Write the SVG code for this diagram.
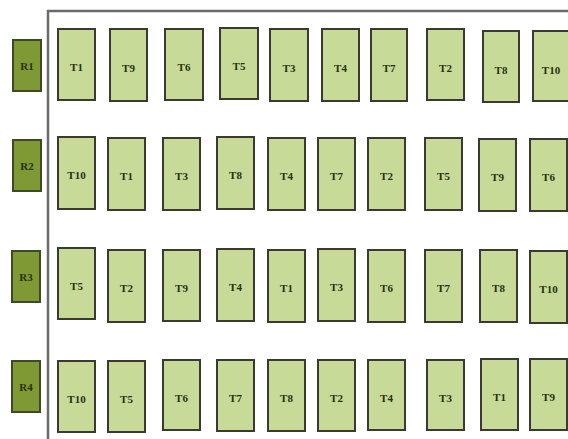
<svg xmlns="http://www.w3.org/2000/svg" width="568" height="439" viewBox="0 0 568 439">
<style>
.t rect{fill:#c8da98;stroke:#3a3a33;stroke-width:2}
.r rect{fill:#7f9a35;stroke:#3d4a25;stroke-width:2}
text{font-family:"Liberation Serif","DejaVu Serif",serif;font-weight:bold;font-size:11px;fill:#26320f;text-anchor:middle}
.frame{fill:none;stroke:#6b6b6b;stroke-width:2.5}
</style>
<rect width="568" height="439" fill="#ffffff"/>
<path class="frame" d="M48,439 V11 H570"/>
<g id="R1" class="r"><rect x="13" y="40" width="28" height="51"/><text x="27" y="70">R1</text></g>
<g id="R2" class="r"><rect x="13" y="140" width="28" height="51"/><text x="27" y="170">R2</text></g>
<g id="R3" class="r"><rect x="12" y="251" width="28" height="51"/><text x="26" y="281">R3</text></g>
<g id="R4" class="r"><rect x="12" y="361" width="28" height="51"/><text x="26" y="391">R4</text></g>
<g id="row1">
<g id="r1-T1" class="t"><rect x="58" y="29" width="37" height="71"/><text x="76.5" y="71">T1</text></g>
<g id="r1-T9" class="t"><rect x="110" y="29" width="37" height="72"/><text x="128.5" y="72">T9</text></g>
<g id="r1-T6" class="t"><rect x="165" y="29" width="38" height="71"/><text x="184" y="71">T6</text></g>
<g id="r1-T5" class="t"><rect x="220" y="28" width="38" height="71"/><text x="239" y="70">T5</text></g>
<g id="r1-T3" class="t"><rect x="270" y="29" width="38" height="72"/><text x="289" y="72">T3</text></g>
<g id="r1-T4" class="t"><rect x="322" y="29" width="37" height="72"/><text x="340.5" y="72">T4</text></g>
<g id="r1-T7" class="t"><rect x="371" y="29" width="36" height="72"/><text x="389" y="72">T7</text></g>
<g id="r1-T2" class="t"><rect x="427" y="29" width="37" height="71"/><text x="445.5" y="72">T2</text></g>
<g id="r1-T8" class="t"><rect x="483" y="31" width="36" height="71"/><text x="501" y="74">T8</text></g>
<g id="r1-T10" class="t"><rect x="533" y="31" width="36" height="70"/><text x="551" y="74">T10</text></g>
</g>
<g id="row2">
<g id="r2-T10" class="t"><rect x="58" y="137" width="37" height="72"/><text x="76.5" y="179">T10</text></g>
<g id="r2-T1" class="t"><rect x="108" y="138" width="37" height="72"/><text x="126.5" y="180">T1</text></g>
<g id="r2-T3" class="t"><rect x="163" y="138" width="37" height="72"/><text x="181.5" y="180">T3</text></g>
<g id="r2-T8" class="t"><rect x="217" y="137" width="37" height="72"/><text x="235.5" y="179">T8</text></g>
<g id="r2-T4" class="t"><rect x="268" y="138" width="37" height="72"/><text x="286.5" y="180">T4</text></g>
<g id="r2-T7" class="t"><rect x="318" y="138" width="37" height="72"/><text x="336.5" y="180">T7</text></g>
<g id="r2-T2" class="t"><rect x="368" y="138" width="37" height="72"/><text x="386.5" y="180">T2</text></g>
<g id="r2-T5" class="t"><rect x="425" y="138" width="37" height="72"/><text x="443.5" y="180">T5</text></g>
<g id="r2-T9" class="t"><rect x="479" y="139" width="37" height="72"/><text x="497.5" y="181">T9</text></g>
<g id="r2-T6" class="t"><rect x="530" y="139" width="37" height="72"/><text x="548.5" y="181">T6</text></g>
</g>
<g id="row3">
<g id="r3-T5" class="t"><rect x="58" y="248" width="37" height="71"/><text x="76.5" y="290">T5</text></g>
<g id="r3-T2" class="t"><rect x="108" y="250" width="37" height="72"/><text x="126.5" y="292">T2</text></g>
<g id="r3-T9" class="t"><rect x="163" y="250" width="37" height="71"/><text x="181.5" y="292">T9</text></g>
<g id="r3-T4" class="t"><rect x="217" y="249" width="37" height="72"/><text x="235.5" y="291">T4</text></g>
<g id="r3-T1" class="t"><rect x="268" y="250" width="37" height="72"/><text x="286.5" y="292">T1</text></g>
<g id="r3-T3" class="t"><rect x="318" y="249" width="37" height="72"/><text x="336.5" y="291">T3</text></g>
<g id="r3-T6" class="t"><rect x="368" y="250" width="37" height="72"/><text x="386.5" y="292">T6</text></g>
<g id="r3-T7" class="t"><rect x="425" y="250" width="37" height="72"/><text x="443.5" y="292">T7</text></g>
<g id="r3-T8" class="t"><rect x="480" y="250" width="37" height="72"/><text x="498.5" y="292">T8</text></g>
<g id="r3-T10" class="t"><rect x="530" y="251" width="37" height="72"/><text x="548.5" y="293">T10</text></g>
</g>
<g id="row4">
<g id="r4-T10" class="t"><rect x="58" y="361" width="37" height="71"/><text x="76.5" y="403">T10</text></g>
<g id="r4-T5" class="t"><rect x="108" y="361" width="37" height="71"/><text x="126.5" y="403">T5</text></g>
<g id="r4-T6" class="t"><rect x="163" y="360" width="37" height="70"/><text x="181.5" y="402">T6</text></g>
<g id="r4-T7" class="t"><rect x="217" y="360" width="37" height="71"/><text x="235.5" y="402">T7</text></g>
<g id="r4-T8" class="t"><rect x="268" y="360" width="37" height="71"/><text x="286.5" y="402">T8</text></g>
<g id="r4-T2" class="t"><rect x="318" y="360" width="37" height="71"/><text x="336.5" y="402">T2</text></g>
<g id="r4-T4" class="t"><rect x="368" y="360" width="37" height="70"/><text x="386.5" y="402">T4</text></g>
<g id="r4-T3" class="t"><rect x="427" y="360" width="37" height="70"/><text x="445.5" y="402">T3</text></g>
<g id="r4-T1" class="t"><rect x="481" y="359" width="37" height="71"/><text x="499.5" y="401">T1</text></g>
<g id="r4-T9" class="t"><rect x="530" y="359" width="37" height="71"/><text x="548.5" y="401">T9</text></g>
</g>
</svg>
